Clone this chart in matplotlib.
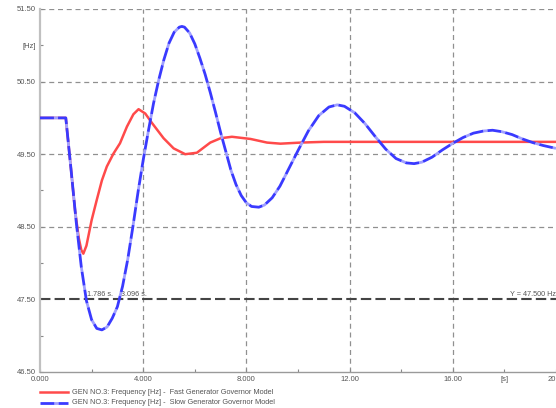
import matplotlib
matplotlib.use("Agg")
import matplotlib.pyplot as plt
from matplotlib.lines import Line2D

plt.rcParams['font.family'] = ['Liberation Sans', 'DejaVu Sans']

# ---- data ----
fast_t = [0.0, 1.0, 1.2, 1.36, 1.5, 1.6, 1.68, 1.8, 2.0, 2.2, 2.4, 2.59, 2.85, 3.1,
          3.37, 3.62, 3.82, 4.08, 4.34, 4.79, 5.18, 5.63, 6.08, 6.6, 7.0, 7.44,
          8.16, 8.8, 9.32, 10.1, 11.0, 12.0, 14.0, 16.0, 18.0, 20.0]
fast_f = [50.0, 50.0, 49.3, 48.72, 48.35, 48.18, 48.13, 48.24, 48.59, 48.87, 49.14, 49.33, 49.51, 49.65,
          49.88, 50.05, 50.12, 50.06, 49.93, 49.72, 49.58, 49.50, 49.52, 49.66, 49.72, 49.74,
          49.71, 49.66, 49.645, 49.66, 49.67, 49.67, 49.67, 49.67, 49.67, 49.67]

slow_t = [0.0, 1.0, 1.2, 1.4, 1.6, 1.8, 2.0, 2.2, 2.4, 2.6, 2.8, 3.0, 3.2, 3.4, 3.6, 3.8,
          4.0, 4.2, 4.4, 4.6, 4.8, 5.0, 5.2, 5.4, 5.5, 5.6, 5.8, 6.0, 6.2, 6.4, 6.6, 6.8,
          7.0, 7.2, 7.4, 7.6, 7.8, 8.0, 8.2, 8.48, 8.7, 9.0, 9.3, 9.6, 10.0, 10.4, 10.8,
          11.2, 11.52, 11.8, 12.2, 12.6, 13.0, 13.4, 13.8, 14.2, 14.5, 14.8, 15.2, 15.6,
          16.0, 16.4, 16.8, 17.2, 17.54, 17.9, 18.3, 18.7, 19.1, 19.5, 20.0]
slow_f = [50.0, 50.0, 49.3, 48.58, 47.95, 47.48, 47.22, 47.10, 47.08, 47.12, 47.24, 47.40, 47.68, 48.05, 48.50, 48.98,
          49.42, 49.82, 50.20, 50.52, 50.80, 51.03, 51.18, 51.25, 51.26, 51.25, 51.17, 51.02, 50.82, 50.60, 50.35, 50.08,
          49.80, 49.54, 49.28, 49.08, 48.93, 48.83, 48.78, 48.77, 48.80, 48.90, 49.06, 49.27, 49.55, 49.82, 50.03,
          50.15, 50.18, 50.16, 50.07, 49.92, 49.74, 49.57, 49.44, 49.38, 49.37, 49.39, 49.46, 49.56,
          49.65, 49.73, 49.79, 49.82, 49.83, 49.81, 49.77, 49.71, 49.66, 49.62, 49.58]

x_ticks = [0, 2, 4, 6, 8, 10, 12, 14, 16, 18, 20]
x_labels = ["0.000", "", "4.000", "", "8.000", "", "12.00", "", "16.00", "[s]", "20"]
y_ticks = [46.5, 47.0, 47.5, 48.0, 48.5, 49.0, 49.5, 50.0, 50.5, 51.0, 51.5]
y_labels = ["46.50", "", "47.50", "", "48.50", "", "49.50", "", "50.50", "[Hz]", "51.50"]
v_grid = [4, 8, 12, 16]
h_grid = [48.5, 49.5, 50.5, 51.5]
threshold = 47.5
cross_times = [1.786, 3.096]
series_names = ["GEN NO.3: Frequency [Hz] -  Fast Generator Governor Model",
                "GEN NO.3: Frequency [Hz] -  Slow Generator Governor Model"]

# ---- figure ----
W, H = 556, 408
fig = plt.figure(figsize=(W / 100, H / 100), dpi=100)
ax = fig.add_axes([40 / W, 1 - 372 / H, 516 / W, 363 / H])
ax.set_xlim(0, 20)
ax.set_ylim(46.5, 51.5)

grid_kw = dict(color='#909090', lw=0.9, dashes=(4, 3), zorder=1)
for xv in v_grid:
    ax.axvline(xv, **grid_kw)
for yv in h_grid:
    ax.axhline(yv, **grid_kw)
ax.axhline(threshold, color='#444444', lw=1.5, dashes=(5, 2), zorder=2)

red = '#ff4a4a'
blue = '#3a3aff'
ax.plot(fast_t, fast_f, color=red, lw=1.8, zorder=3, solid_capstyle='round')
ax.plot(slow_t, slow_f, color=blue, lw=2.0, dashes=(5, 1.5), gapcolor='#a0a0ff', zorder=4)

# annotations
tk = dict(fontsize=5.2, color='#555555', va='bottom')
ax.text(cross_times[0] + 0.05, threshold + 0.02, f"{cross_times[0]:.3f} s.", ha='left', **tk)
ax.text(cross_times[1] + 0.06, threshold + 0.02, f"{cross_times[1]:.3f} s.", ha='left', **tk)
ax.text(20, threshold + 0.02, f"Y = {threshold:.3f} Hz", ha='right', clip_on=False, **tk)

# axes styling
for s in ['top', 'right']:
    ax.spines[s].set_visible(False)
ax.spines['left'].set_color('#c0c0c0')
ax.spines['left'].set_linewidth(1.6)
ax.spines['bottom'].set_color('#9a9a9a')
ax.spines['bottom'].set_linewidth(1.0)
ax.set_xticks(x_ticks)
ax.set_xticklabels(x_labels)
ax.set_yticks(y_ticks)
ax.set_yticklabels(y_labels)
ax.tick_params(direction='in', length=2, width=0.8, color='#888888',
               labelsize=5.5, labelcolor='#555555', pad=3)
ax.get_xticklabels()[-1].set_horizontalalignment('right')

# legend
fig.add_artist(Line2D([40 / W, 68 / W], [1 - 392 / H] * 2, color=red, lw=1.8,
                      transform=fig.transFigure))
fig.add_artist(Line2D([40 / W, 68 / W], [1 - 402.5 / H] * 2, color=blue, lw=2.0,
                      dashes=(5, 1.5), gapcolor='#a0a0ff', transform=fig.transFigure))
fig.text(72 / W, 1 - 392 / H, series_names[0], fontsize=5.3, color='#555555', va='center')
fig.text(72 / W, 1 - 402.5 / H, series_names[1], fontsize=5.3, color='#555555', va='center')

fig.savefig("out.png", dpi=100)
